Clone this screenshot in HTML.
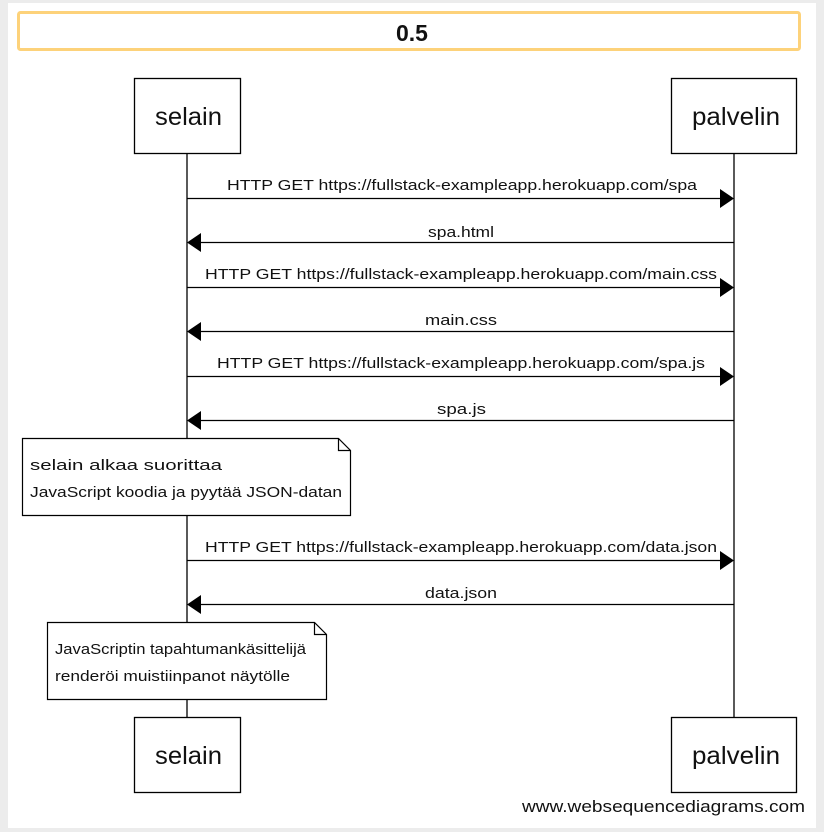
<!DOCTYPE html>
<html><head><meta charset="utf-8"><style>
html,body{margin:0;padding:0;background:#ececec;}
svg{display:block;}
text{font-family:"Liberation Sans",Arial,sans-serif;}
</style></head><body>
<svg width="824" height="832" viewBox="0 0 824 832" xmlns="http://www.w3.org/2000/svg">
<rect x="8" y="3" width="808" height="825" fill="#fff"/>
<rect x="18.5" y="12.5" width="781" height="37" fill="#fff" stroke="#fdd27a" stroke-width="3" rx="2"/>
<text x="412" y="41" font-size="23" font-weight="bold" text-anchor="middle" fill="#111">0.5</text>

<line x1="187" y1="154" x2="187" y2="717" stroke="#000" stroke-width="1.3"/>
<line x1="734" y1="154" x2="734" y2="717" stroke="#000" stroke-width="1.3"/>

<g fill="#fff" stroke="#000" stroke-width="1.3">
<rect x="134.5" y="78.5" width="106" height="75"/>
<rect x="671.5" y="78.5" width="125" height="75"/>
<rect x="134.5" y="717.5" width="106" height="75"/>
<rect x="671.5" y="717.5" width="125" height="75"/>
</g>
<g font-size="25" fill="#111" lengthAdjust="spacingAndGlyphs">
<text x="155" y="125" textLength="67" lengthAdjust="spacingAndGlyphs">selain</text>
<text x="692" y="125" textLength="88" lengthAdjust="spacingAndGlyphs">palvelin</text>
<text x="155" y="764" textLength="67" lengthAdjust="spacingAndGlyphs">selain</text>
<text x="692" y="764" textLength="88" lengthAdjust="spacingAndGlyphs">palvelin</text>
</g>

<g stroke="#000" stroke-width="1.3">
<line x1="187" y1="198.5" x2="722" y2="198.5"/>
<line x1="199" y1="242.5" x2="734" y2="242.5"/>
<line x1="187" y1="287.5" x2="722" y2="287.5"/>
<line x1="199" y1="331.5" x2="734" y2="331.5"/>
<line x1="187" y1="376.5" x2="722" y2="376.5"/>
<line x1="199" y1="420.5" x2="734" y2="420.5"/>
<line x1="187" y1="560.5" x2="722" y2="560.5"/>
<line x1="199" y1="604.5" x2="734" y2="604.5"/>
</g>
<g fill="#000">
<polygon points="734,198.5 720,189 720,208"/>
<polygon points="187,242.5 201,233 201,252"/>
<polygon points="734,287.5 720,278 720,297"/>
<polygon points="187,331.5 201,322 201,341"/>
<polygon points="734,376.5 720,367 720,386"/>
<polygon points="187,420.5 201,411 201,430"/>
<polygon points="734,560.5 720,551 720,570"/>
<polygon points="187,604.5 201,595 201,614"/>
</g>
<g font-size="15" fill="#111">
<text x="227" y="190" textLength="470" lengthAdjust="spacingAndGlyphs">HTTP GET https://fullstack-exampleapp.herokuapp.com/spa</text>
<text x="428" y="237" textLength="66" lengthAdjust="spacingAndGlyphs">spa.html</text>
<text x="205" y="279" textLength="512" lengthAdjust="spacingAndGlyphs">HTTP GET https://fullstack-exampleapp.herokuapp.com/main.css</text>
<text x="425" y="325" textLength="72" lengthAdjust="spacingAndGlyphs">main.css</text>
<text x="217" y="368" textLength="488" lengthAdjust="spacingAndGlyphs">HTTP GET https://fullstack-exampleapp.herokuapp.com/spa.js</text>
<text x="437" y="414" textLength="49" lengthAdjust="spacingAndGlyphs">spa.js</text>
<text x="205" y="552" textLength="512" lengthAdjust="spacingAndGlyphs">HTTP GET https://fullstack-exampleapp.herokuapp.com/data.json</text>
<text x="425" y="598" textLength="72" lengthAdjust="spacingAndGlyphs">data.json</text>
</g>

<g fill="#fff" stroke="#000" stroke-width="1.2">
<path d="M22.5,438.5 H338.5 L350.5,450.5 V515.5 H22.5 Z"/>
<path d="M338.5,438.5 V450.5 H350.5" fill="none"/>
<path d="M47.5,622.5 H314.5 L326.5,634.5 V699.5 H47.5 Z"/>
<path d="M314.5,622.5 V634.5 H326.5" fill="none"/>
</g>
<g font-size="15" fill="#111">
<text x="30" y="470" textLength="192" lengthAdjust="spacingAndGlyphs">selain alkaa suorittaa</text>
<text x="30" y="497" textLength="312" lengthAdjust="spacingAndGlyphs">JavaScript koodia ja pyytää JSON-datan</text>
<text x="55" y="654" textLength="251" lengthAdjust="spacingAndGlyphs">JavaScriptin tapahtumankäsittelijä</text>
<text x="55" y="681" textLength="235" lengthAdjust="spacingAndGlyphs">renderöi muistiinpanot näytölle</text>
</g>
<text x="522" y="812" font-size="17" textLength="283" lengthAdjust="spacingAndGlyphs" fill="#111">www.websequencediagrams.com</text>
</svg>
</body></html>
